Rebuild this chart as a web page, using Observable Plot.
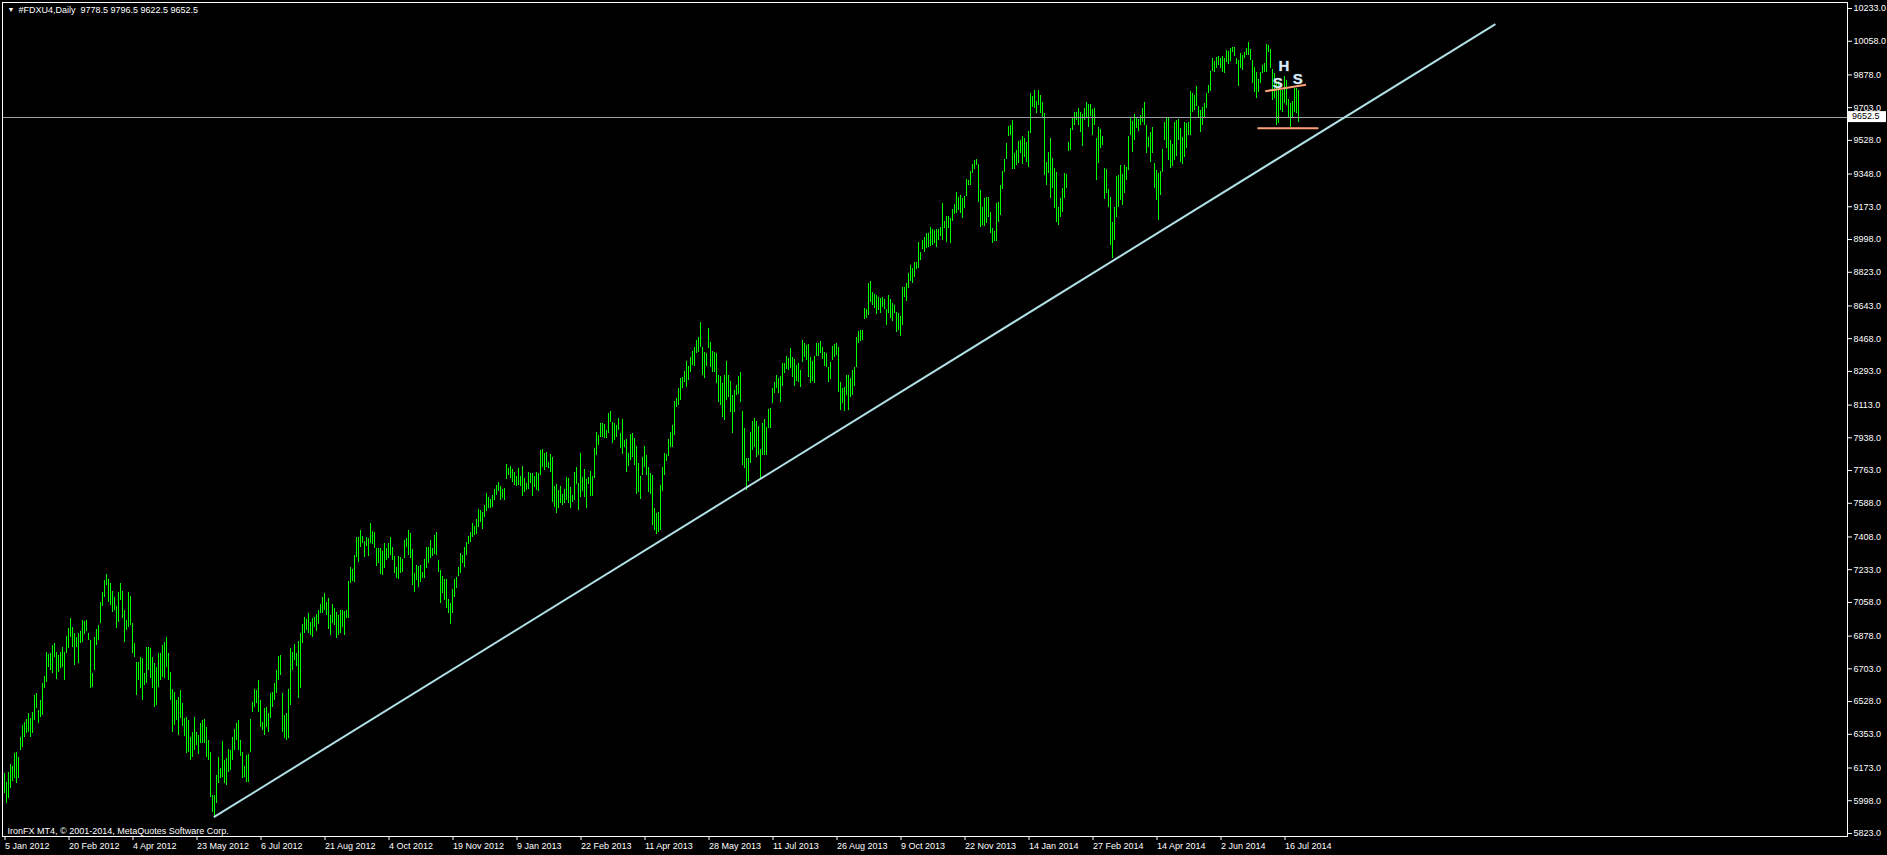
<!DOCTYPE html>
<html>
<head>
<meta charset="utf-8">
<script src="https://cdn.jsdelivr.net/npm/d3@7"></script>
<script src="https://cdn.jsdelivr.net/npm/@observablehq/plot@0.6"></script>
<style>
html,body{margin:0;padding:0;background:#000;overflow:hidden;}
</style>
</head>
<body>
<div id="chart"></div>
<script>
// Daily bar highs (index 0 = 5 Jan 2012)
const high = [
6142,6098,6151,6190,6181,6253,6258,6231,6338,6401,
6418,6431,6466,6436,6472,6561,6573,6481,6534,6627,
6664,6789,6780,6784,6828,6837,6793,6775,6793,6819,
6793,6876,6917,6971,6923,6891,6869,6891,6900,6962,
6958,6962,6891,6855,6680,6873,6912,6935,7060,7113,
7176,7208,7179,7158,7119,7083,7037,7113,7158,7117,
7015,6962,7113,7090,6948,6837,6739,6739,6762,6757,
6677,6819,6816,6810,6762,6730,6712,6784,6787,6828,
6846,6873,6787,6684,6591,6579,6534,6552,6588,6516,
6436,6445,6427,6338,6365,6445,6365,6347,6409,6427,
6431,6392,6320,6258,6026,6026,6133,6228,6169,6315,
6213,6222,6270,6267,6338,6379,6413,6427,6320,6258,
6183,6240,6246,6433,6525,6593,6588,6641,6534,6418,
6490,6499,6463,6573,6579,6623,6695,6769,6775,6570,
6454,6466,6591,6810,6792,6834,6784,6851,6891,6940,
6980,6965,7001,6953,6971,6976,6994,7015,7047,7087,
7104,7060,7078,6989,7047,7024,7006,6989,7015,7015,
7012,7015,7169,7247,7233,7309,7407,7404,7443,7411,
7386,7404,7402,7479,7439,7434,7345,7345,7345,7332,
7372,7345,7372,7404,7354,7304,7247,7304,7297,7286,
7390,7398,7443,7425,7340,7215,7256,7250,7256,7220,
7286,7350,7354,7390,7349,7416,7434,7283,7229,7199,
7179,7181,7072,7051,7126,7181,7193,7247,7322,7309,
7354,7381,7411,7434,7482,7464,7500,7553,7550,7541,
7577,7643,7618,7607,7630,7660,7684,7701,7678,7660,
7666,7796,7773,7785,7767,7755,7732,7773,7732,7785,
7719,7696,7754,7749,7745,7731,7754,7749,7870,7874,
7852,7861,7808,7849,7831,7678,7689,7656,7678,7635,
7660,7728,7719,7671,7630,7754,7778,7696,7856,7728,
7767,7717,7728,7760,7731,7879,7968,7950,8013,8013,
8007,7977,8066,8081,8022,8013,8004,8040,7959,8034,
7924,7927,7852,7956,7959,7933,7892,7803,7731,7831,
7892,7845,7781,7749,7737,7558,7532,7541,7683,7781,
7852,7849,7927,7968,8004,8134,8146,8200,8253,8259,
8294,8348,8319,8369,8401,8419,8458,8476,8553,8419,
8396,8391,8521,8449,8401,8396,8387,8271,8266,8227,
8271,8348,8271,8241,8164,8191,8218,8266,8289,8080,
7986,7826,7826,7968,8025,8043,8025,7998,7874,8016,
8034,7995,8088,8093,8203,8236,8271,8254,8266,8334,
8334,8373,8361,8414,8366,8355,8325,8334,8298,8459,
8441,8432,8437,8370,8346,8373,8444,8441,8455,8423,
8396,8391,8316,8343,8427,8437,8441,8423,8236,8200,
8209,8271,8271,8254,8298,8316,8476,8508,8512,8512,
8628,8623,8762,8776,8717,8704,8697,8690,8681,8690,
8680,8623,8699,8680,8655,8646,8610,8605,8587,8744,
8744,8762,8819,8860,8842,8877,8877,8984,8931,8993,
9011,9029,9032,9064,9050,9047,9054,9054,9064,9189,
9097,9121,9121,9109,9157,9186,9252,9221,9234,9216,
9228,9317,9314,9362,9399,9421,9424,9399,9260,9171,
9216,9225,9225,9145,9056,9043,9193,9198,9287,9364,
9424,9514,9603,9608,9635,9460,9474,9524,9528,9549,
9537,9519,9578,9777,9763,9795,9738,9795,9768,9729,
9670,9411,9465,9536,9429,9379,9358,9171,9215,9272,
9349,9344,9518,9593,9643,9675,9679,9697,9675,9664,
9697,9729,9718,9718,9693,9697,9536,9599,9586,9550,
9379,9372,9265,9221,9087,9171,9337,9340,9394,9344,
9394,9385,9550,9647,9629,9664,9652,9639,9661,9697,
9729,9607,9545,9572,9599,9402,9367,9349,9361,9479,
9625,9647,9652,9527,9504,9625,9634,9639,9593,9545,
9625,9616,9625,9789,9777,9768,9816,9711,9688,9705,
9723,9777,9821,9896,9964,9950,9973,9978,9964,9978,
9964,10008,10003,10021,10026,10026,9964,9955,9991,9982,
10000,10021,10049,10014,9955,9919,9892,9851,9892,9928,
9937,10040,10035,10012,9905,9883,9830,9844,9794,9794,
9869,9848,9744,9727,9737,9808,9803,9797
];
// Daily bar lows
const low = [
6035,5985,6009,6066,6103,6115,6089,6115,6267,6285,
6338,6356,6365,6338,6356,6427,6490,6409,6445,6454,
6597,6632,6712,6695,6677,6766,6645,6686,6703,6712,
6641,6787,6810,6873,6819,6721,6819,6734,6837,6846,
6887,6900,6855,6597,6605,6695,6828,6855,6948,7037,
7087,7149,7060,7042,7006,7015,6917,6953,7069,6971,
6846,6908,6926,6935,6784,6766,6561,6641,6597,6534,
6614,6623,6695,6650,6597,6499,6507,6605,6641,6659,
6650,6712,6641,6534,6363,6401,6427,6347,6436,6395,
6342,6253,6258,6213,6231,6267,6294,6246,6303,6303,
6303,6231,6213,6017,5937,5910,5982,6089,6115,6124,
6089,6080,6151,6160,6213,6267,6320,6267,6235,6115,
6124,6098,6098,6258,6472,6499,6516,6472,6392,6374,
6347,6392,6365,6436,6498,6534,6570,6641,6668,6365,
6329,6320,6329,6507,6695,6748,6716,6547,6597,6841,
6891,6908,6891,6882,6873,6926,6900,6940,6997,6997,
7015,6989,6912,6882,6944,6935,6864,6882,6891,6926,
6882,6971,6971,7158,7172,7167,7300,7274,7354,7375,
7300,7357,7304,7375,7368,7345,7252,7265,7208,7202,
7238,7283,7292,7309,7283,7215,7185,7179,7211,7220,
7292,7354,7309,7292,7149,7113,7176,7140,7167,7185,
7185,7238,7265,7292,7304,7313,7309,7220,7054,7104,
7069,7024,6997,6940,6997,7087,7131,7197,7211,7265,
7247,7309,7368,7381,7407,7416,7422,7461,7488,7447,
7514,7546,7559,7559,7564,7603,7630,7653,7603,7612,
7603,7714,7737,7719,7701,7684,7678,7684,7678,7624,
7648,7656,7660,7692,7624,7674,7656,7651,7737,7781,
7763,7781,7772,7754,7594,7567,7532,7558,7585,7576,
7585,7603,7585,7558,7594,7603,7689,7550,7621,7653,
7621,7558,7689,7624,7624,7719,7843,7897,7941,7941,
7933,7933,7959,8022,7906,7924,7941,7977,7879,7849,
7888,7754,7785,7817,7835,7790,7635,7648,7607,7737,
7781,7737,7644,7635,7469,7443,7419,7434,7443,7653,
7737,7813,7838,7888,7888,7950,8102,8111,8137,8200,
8235,8209,8244,8289,8325,8319,8391,8396,8423,8271,
8253,8319,8414,8312,8289,8289,8227,8129,8111,8045,
8031,8137,8155,8075,7959,8075,8164,8170,8129,7790,
7772,7656,7706,7799,7870,7888,7835,7843,7719,7843,
7843,7843,7986,7986,8123,8173,8200,8173,8129,8213,
8280,8302,8298,8311,8259,8213,8241,8236,8206,8343,
8366,8352,8263,8227,8241,8230,8373,8373,8391,8355,
8320,8316,8236,8248,8352,8366,8378,8182,8084,8120,
8081,8165,8084,8156,8165,8213,8316,8441,8455,8459,
8569,8574,8592,8664,8646,8628,8598,8619,8605,8633,
8623,8539,8601,8574,8562,8601,8503,8512,8482,8539,
8690,8669,8735,8776,8762,8797,8836,8842,8886,8943,
8931,8949,8958,8961,8966,8975,8958,8993,9015,8993,
9056,8984,9056,8975,9097,9132,9136,9154,9139,9109,
9162,9228,9287,9287,9350,9371,9394,9198,9061,9073,
9068,9082,9118,9029,8975,8990,8990,9091,9127,9264,
9358,9424,9549,9555,9373,9371,9394,9403,9460,9399,
9435,9412,9382,9567,9702,9697,9670,9715,9674,9643,
9340,9287,9349,9219,9269,9162,9091,9073,9117,9144,
9219,9272,9468,9474,9581,9607,9634,9607,9572,9497,
9634,9652,9599,9657,9554,9607,9313,9406,9486,9500,
9212,9242,9171,8966,8895,8993,9117,9171,9206,9180,
9242,9313,9367,9554,9465,9527,9590,9575,9607,9625,
9607,9456,9492,9408,9456,9269,9206,9100,9233,9358,
9527,9483,9420,9376,9390,9420,9443,9527,9411,9397,
9438,9483,9554,9554,9675,9688,9711,9652,9572,9607,
9643,9697,9777,9789,9896,9893,9910,9928,9914,9893,
9884,9946,9932,9950,9999,9978,9932,9818,9910,9901,
9964,9982,9982,9955,9830,9785,9750,9785,9830,9883,
9892,9892,9999,9910,9741,9750,9607,9616,9687,9678,
9723,9714,9652,9598,9643,9678,9670,9623
];

// Time axis: bar index of each date label
const xTickIndex = [0,32,64,96,128,160,192,224,256,288,320,352,384,416,448,480,512,544,576,608,640];
const xTickLabels = ["5 Jan 2012","20 Feb 2012","4 Apr 2012","23 May 2012","6 Jul 2012","21 Aug 2012","4 Oct 2012","19 Nov 2012","9 Jan 2013","22 Feb 2013","11 Apr 2013","28 May 2013","11 Jul 2013","26 Aug 2013","9 Oct 2013","22 Nov 2013","14 Jan 2014","27 Feb 2014","14 Apr 2014","2 Jun 2014","16 Jul 2014"];
// Price axis labels
const yTicks = [10233,10058,9878,9703,9528,9348,9173,8998,8823,8643,8468,8293,8113,7938,7763,7588,7408,7233,7058,6878,6703,6528,6353,6173,5998,5823];

// Header: symbol and last bar OHLC
const symbol = "#FDXU4,Daily";
const lastOHLC = [9778.5, 9796.5, 9622.5, 9652.5];
const copyright = "IronFX MT4, \u00a9 2001-2014, MetaQuotes Software Corp.";

// Drawn objects (bar index, price)
const trendLine = [{i1: 104.9, p1: 5910, i2: 745.7, p2: 10150}];
const patternLines = [
  {i1: 626.7, p1: 9593, i2: 657.2, p2: 9593},
  {i1: 630.6, p1: 9791, i2: 651.0, p2: 9825}
];
const patternLabels = [
  {i: 636.9, p: 9836, t: "S"},
  {i: 639.9, p: 9923, t: "H"},
  {i: 646.9, p: 9857, t: "S"}
];

const bars = high.map((h, i) => ({i, high: h, low: low[i]}));
const lastClose = lastOHLC[3];
const font = "'Liberation Sans', Arial, sans-serif";

const chart = Plot.plot({
  width: 1887,
  height: 855,
  marginTop: 2,
  marginRight: 40,
  marginBottom: 19,
  marginLeft: 2,
  style: {background: "#000", color: "#fff", fontFamily: font, fontSize: "9px", overflow: "visible"},
  x: {domain: [-0.75, 921.75]},
  y: {domain: [5806.8, 10265.1]},
  marks: [
    Plot.ruleX(bars, {x: "i", y1: "low", y2: "high", stroke: "#00ff00", strokeWidth: 1, shapeRendering: "crispEdges"}),
    Plot.ruleY([lastClose], {stroke: "#a0a0a8", strokeWidth: 1, shapeRendering: "crispEdges"}),
    Plot.link(trendLine, {x1: "i1", y1: "p1", x2: "i2", y2: "p2", stroke: "#b0e0e6", strokeWidth: 2}),
    Plot.link(patternLines, {x1: "i1", y1: "p1", x2: "i2", y2: "p2", stroke: "#ffa07a", strokeWidth: 2}),
    Plot.text(patternLabels, {x: "i", y: "p", text: "t", fill: "#dcebf7", stroke: "#6a8aa8", strokeWidth: 0.6, fontSize: 15, fontWeight: "bold", fontFamily: "'Liberation Sans', Arial, sans-serif"}),
    Plot.axisY(yTicks, {anchor: "right", tickSize: 4, tickPadding: 2, label: null, tickFormat: d => d.toFixed(1)}),
    Plot.axisX(xTickIndex, {anchor: "bottom", tickSize: 4, tickPadding: 2, label: null, textAnchor: "start", dx: 1,
      tickFormat: i => xTickLabels[xTickIndex.indexOf(i)]}),
    Plot.frame({stroke: "#fff", shapeRendering: "crispEdges"}),
    Plot.text(["\u25bc"], {frameAnchor: "top-left", dx: 5, dy: 5, fontSize: 7, fill: "#fff"}),
    Plot.text([`${symbol}  ${lastOHLC.map(v => v.toFixed(1)).join(" ")}`], {frameAnchor: "top-left", dx: 16, dy: 4, fill: "#fff"}),
    Plot.text([copyright], {frameAnchor: "bottom-left", dx: 5, dy: -3, fill: "#fff"})
  ]
});

// Last-price marker box on the price axis
const yScale = chart.scale("y");
const yLast = yScale.apply(lastClose);
const svg = d3.select(chart);
svg.append("rect").attr("x", 1848).attr("y", yLast - 5.5).attr("width", 38).attr("height", 11).attr("fill", "#fff");
svg.append("text").attr("x", 1852).attr("y", yLast).attr("dy", "0.32em").attr("text-anchor", "start")
  .attr("fill", "#000").attr("font-family", font).attr("font-size", 9).text(lastClose.toFixed(1));

document.getElementById("chart").appendChild(chart);
</script>
</body>
</html>
